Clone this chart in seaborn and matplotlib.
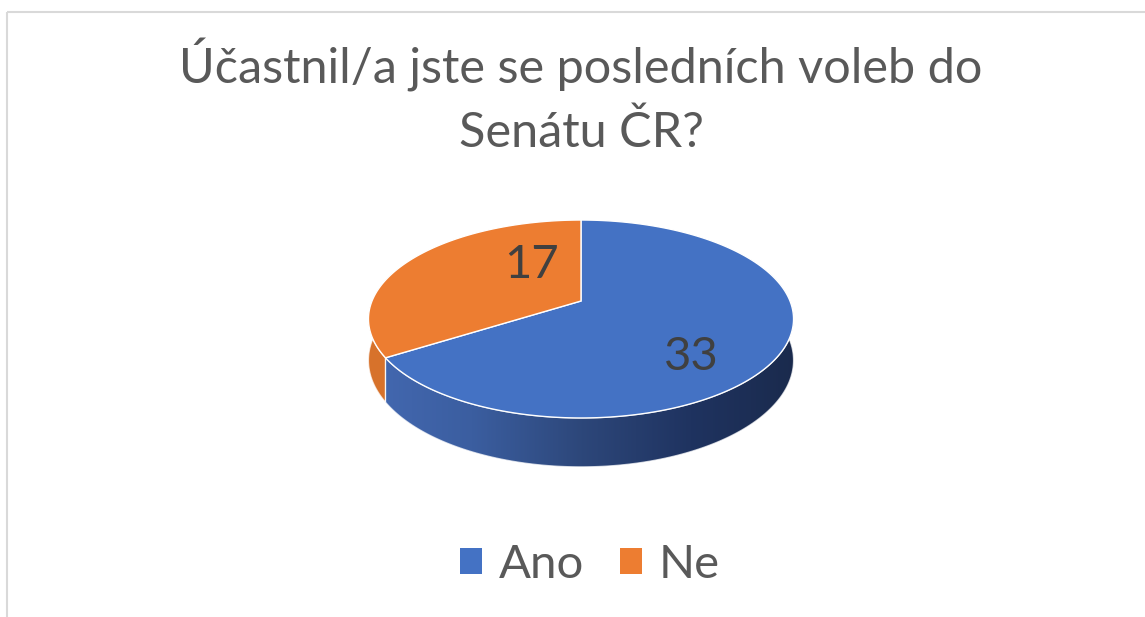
import matplotlib
matplotlib.use("Agg")
import numpy as np
import matplotlib.pyplot as plt
import seaborn as sns
from matplotlib.patches import Polygon, Rectangle, Patch
from matplotlib.colors import LinearSegmentedColormap

# Data
categories = ["Ano", "Ne"]
values = [33, 17]
title = "Účastnil/a jste se posledních voleb do\nSenátu ČR?"

top_colors = ["#4472c4", "#ed7d31"]
side_colors = [
    ["#4469b2", "#3b5ea0", "#2d477a", "#1f3360", "#1a2a4c"],
    ["#d8732c", "#c8621c"],
]
label_pos = [(691, 357), (532, 265)]  # pixel positions of the value labels

sns.set_style("white")
plt.rcParams["font.family"] = ["Lato", "DejaVu Sans"]
text_color = "#595959"

fig = plt.figure(figsize=(11.45, 6.17), dpi=100)
ax = fig.add_axes([0, 0, 1, 1])

# let pie work out the wedge angles, then redraw them as a tilted 3D disc
wedges, _ = ax.pie(values, startangle=90, counterclock=False)
spans = [(w.theta1, w.theta2) for w in wedges]
for w in wedges:
    w.remove()

# perspective projection of the disc (pixel space)
cx, cy = 581, 301
kx, ky = 209, 95.7
persp = 0.1818
depth = 40


def project(t_deg, r=1.0, z=0.0):
    t = np.radians(t_deg)
    x = r * np.cos(t)
    y = r * np.sin(t)
    d = 1 + persp * y
    return cx + kx * x / d, cy - ky * y / d + depth * z / d


# Side walls (front half only)
vis_lo, vis_hi = -200, 20
for (t1, t2), cols in zip(spans, side_colors):
    for off in (-360, 0, 360):
        a = max(t1 + off, vis_lo)
        b = min(t2 + off, vis_hi)
        if b <= a:
            continue
        t = np.linspace(a, b, 200)
        ux, uy = project(t)
        bx, by = project(t, z=1.0)
        verts = np.column_stack([np.r_[ux, bx[::-1]], np.r_[uy, by[::-1]]])
        poly = Polygon(verts, closed=True, facecolor="none", edgecolor=(1, 1, 1, 0.7),
                       lw=0.9, zorder=2)
        ax.add_patch(poly)
        cmap = LinearSegmentedColormap.from_list("side", cols)
        im = ax.imshow(np.linspace(0, 1, 256)[None, :], cmap=cmap, aspect="auto",
                       extent=(cx - kx * 1.05, cx + kx * 1.05, cy + 200, cy - 120), zorder=1)
        im.set_clip_path(poly)

# Top faces
for (t1, t2), col in zip(spans, top_colors):
    t = np.linspace(t1, t2, 300)
    ux, uy = project(t)
    verts = np.column_stack([np.r_[cx, ux], np.r_[cy, uy]])
    ax.add_patch(Polygon(verts, closed=True, facecolor=col, edgecolor="white",
                         lw=1.0, zorder=3))

# Value labels
for v, (lx, ly) in zip(values, label_pos):
    ax.text(lx, ly, str(v), ha="center", va="center", fontsize=34,
            color="#404040", zorder=5)

# Title
fig.text(581 / 1145, 1 - 38 / 617, title, ha="center", va="top", fontsize=35,
         color=text_color, linespacing=1.5)

# Legend
handles = [Patch(facecolor=c, edgecolor="none") for c in top_colors]
ax.legend(handles, categories, loc="center", ncol=2, frameon=False,
          bbox_to_anchor=(590 / 1145, 1 - 565 / 617), bbox_transform=fig.transFigure,
          fontsize=34, labelcolor=text_color, handlelength=0.47, handleheight=0.47,
          handletextpad=0.35, columnspacing=0.76)

# Chart border
ax.add_patch(Rectangle((6.5, 11.5), 1300, 700, facecolor="none",
                       edgecolor="#d9d9d9", lw=1.5, zorder=0))

ax.set_aspect("auto")
ax.set_xlim(0, 1145)
ax.set_ylim(617, 0)
ax.axis("off")

fig.savefig("out.png", dpi=100)
plt.close(fig)
